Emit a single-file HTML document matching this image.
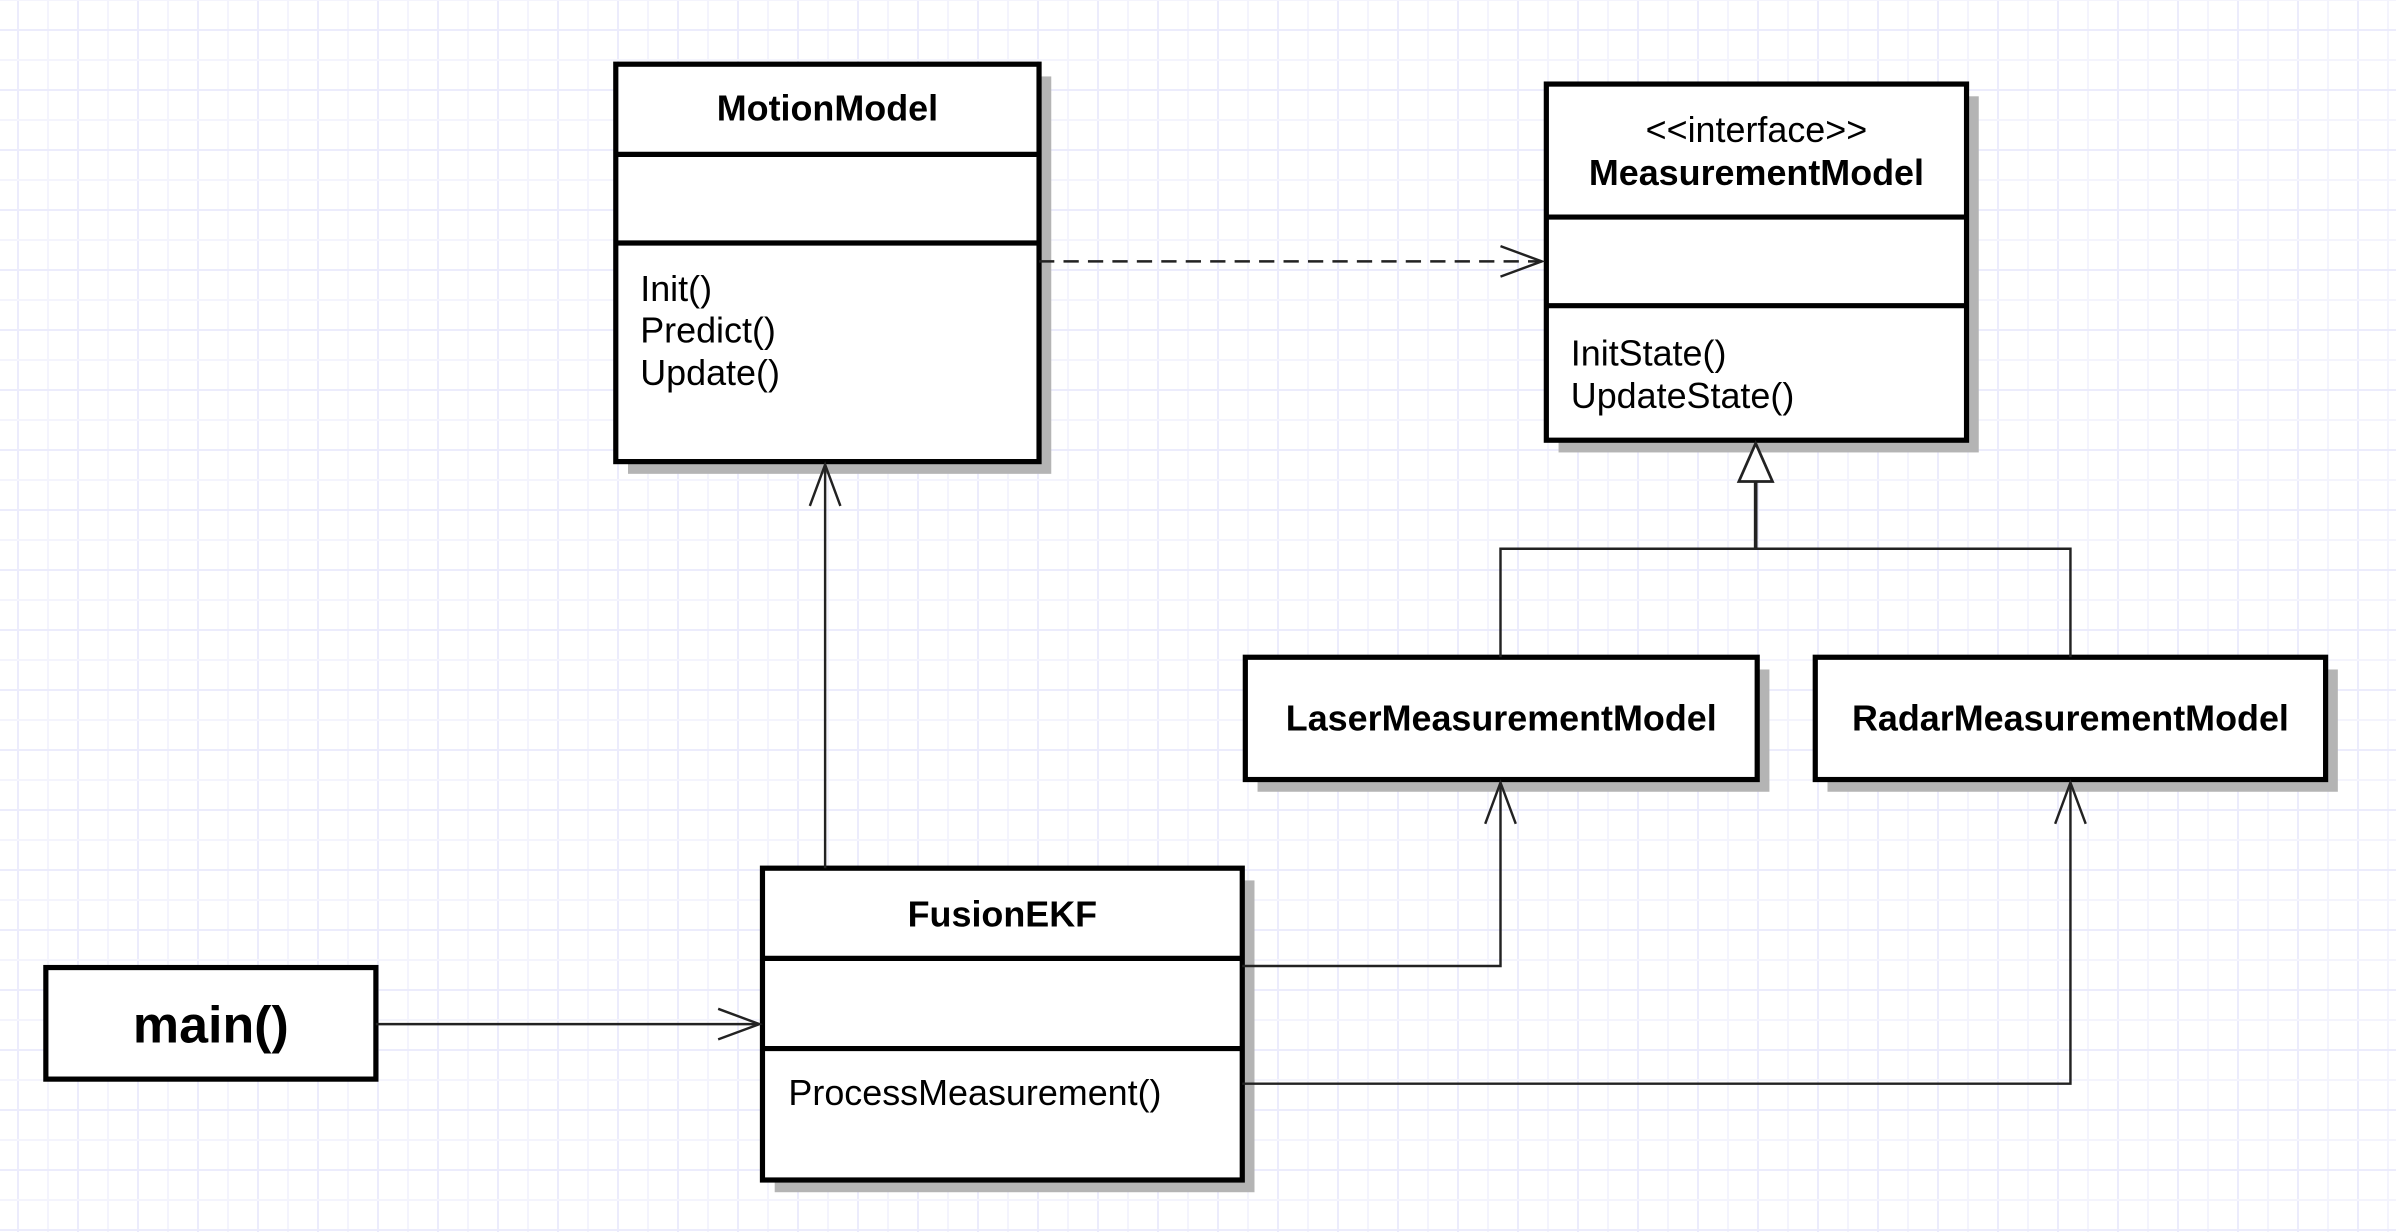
<!DOCTYPE html>
<html><head><meta charset="utf-8"><style>
html,body{margin:0;padding:0;background:#fff;}
svg{display:block;}
text{font-family:"Liberation Sans",Arial,sans-serif;fill:#000;}
.b{font-weight:bold;}
</style></head><body>
<svg width="2396" height="1232" viewBox="0 0 2396 1232" xmlns="http://www.w3.org/2000/svg">
<defs>
<pattern id="g" x="17" y="29" width="60" height="60" patternUnits="userSpaceOnUse">
<rect x="0" y="0" width="2" height="60" fill="#ececfc"/>
<rect x="30" y="0" width="2" height="60" fill="#f4f4fd"/>
<rect x="0" y="0" width="60" height="2" fill="#ececfc"/>
<rect x="0" y="30" width="60" height="2" fill="#f4f4fd"/>
</pattern>
</defs>
<rect width="2396" height="1232" fill="url(#g)"/>
<g transform="scale(1.528,1.5285)">
<g fill="#b4b4b4">
<rect x="411" y="50" width="277" height="260"/>
<rect x="1020" y="63" width="275" height="233"/>
<rect x="823" y="438" width="335" height="80"/>
<rect x="1196" y="438" width="334" height="80"/>
<rect x="507" y="576" width="314" height="204"/>
</g>
<g fill="#fff" stroke="#000" stroke-width="3.4">
<rect x="403" y="42" width="277" height="260"/>
<rect x="1012" y="55" width="275" height="233"/>
<rect x="815" y="430" width="335" height="80"/>
<rect x="1188" y="430" width="334" height="80"/>
<rect x="499" y="568" width="314" height="204"/>
<rect x="30" y="633" width="216" height="73"/>
</g>
<g stroke="#000" stroke-width="3.4">
<line x1="403" y1="101" x2="680" y2="101"/>
<line x1="403" y1="159" x2="680" y2="159"/>
<line x1="1012" y1="142" x2="1287" y2="142"/>
<line x1="1012" y1="200" x2="1287" y2="200"/>
<line x1="499" y1="627" x2="813" y2="627"/>
<line x1="499" y1="686" x2="813" y2="686"/>
</g>
<g stroke="#222" stroke-width="1.6" fill="none">
<line x1="246" y1="670" x2="497" y2="670"/>
<polyline points="470,660 497,670 470,680"/>
<line x1="540" y1="568" x2="540" y2="304"/>
<polyline points="530,331 540,304 550,331"/>
<line x1="680" y1="171" x2="1009" y2="171" stroke-dasharray="10,6"/>
<polyline points="982,161 1009,171 982,181"/>
<polyline points="813,632 982,632 982,512"/>
<polyline points="972,539 982,512 992,539"/>
<polyline points="813,709 1355,709 1355,512"/>
<polyline points="1345,539 1355,512 1365,539"/>
<polyline points="982,430 982,359 1355,359 1355,430"/>
<line x1="1149" y1="315" x2="1149" y2="359" stroke-width="2.4"/>
<polygon points="1149,290 1138,315 1160,315" fill="#fff" stroke-width="1.8"/>
</g>
<g font-size="23.5">
<text class="b" x="541.5" y="79" text-anchor="middle">MotionModel</text>
<text x="419" y="197">Init()</text>
<text x="419" y="224">Predict()</text>
<text x="419" y="252">Update()</text>
<text x="1149.5" y="93" text-anchor="middle">&lt;&lt;interface&gt;&gt;</text>
<text class="b" x="1149.5" y="121" text-anchor="middle">MeasurementModel</text>
<text x="1028" y="239">InitState()</text>
<text x="1028" y="267">UpdateState()</text>
<text class="b" x="982.5" y="478" text-anchor="middle">LaserMeasurementModel</text>
<text class="b" x="1355" y="478" text-anchor="middle">RadarMeasurementModel</text>
<text class="b" x="656" y="606" text-anchor="middle">FusionEKF</text>
<text x="516" y="723">ProcessMeasurement()</text>
</g>
<text class="b" x="138" y="682" font-size="34" text-anchor="middle">main()</text>
</g>
</svg>
</body></html>
